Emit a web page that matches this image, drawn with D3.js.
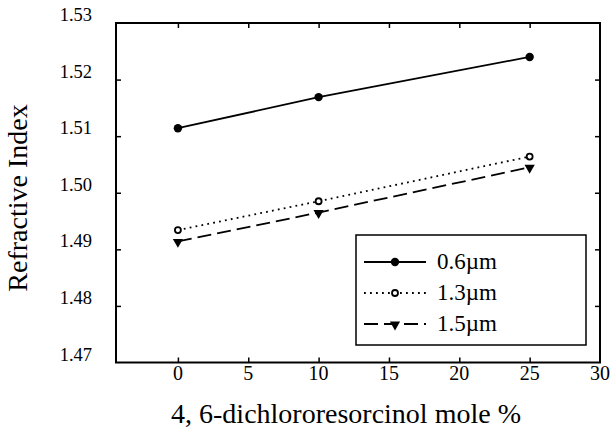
<!DOCTYPE html>
<html>
<head>
<meta charset="utf-8">
<script src="https://cdnjs.cloudflare.com/ajax/libs/d3/7.8.5/d3.min.js"></script>
<style>
body { margin: 0; background: #fff; }
svg text { font-family: "Liberation Serif", "Times New Roman", serif; fill: #000; }
</style>
</head>
<body>
<div id="chart"></div>
<script>
var molePct = [0, 10, 25];
var idx06 = [1.5114, 1.5169, 1.5240];
var idx13 = [1.4934, 1.4985, 1.5064];
var idx15 = [1.4914, 1.4965, 1.5045];
var seriesNames = ['0.6\u00b5m', '1.3\u00b5m', '1.5\u00b5m'];
var xTicks = [0, 5, 10, 15, 20, 25, 30];
var yTicks = [1.47, 1.48, 1.49, 1.50, 1.51, 1.52, 1.53];

var width = 613, height = 431;
var plotL = 116, plotR = 600, plotT = 23, plotB = 362.5;

var svg = d3.select('#chart').append('svg')
	.attr('width', width)
	.attr('height', height);

var x = d3.scaleLinear().domain([-4.4, 30]).range([plotL, plotR]);
var y = d3.scaleLinear().domain([1.47, 1.53]).range([plotB, plotT]);

// frame
svg.append('rect')
	.attr('x', plotL).attr('y', plotT)
	.attr('width', plotR - plotL).attr('height', plotB - plotT)
	.attr('fill', 'none').attr('stroke', '#000').attr('stroke-width', 2);

// inside ticks on all four sides
var tickLen = 5;
function ticksOn(g, axis) {
	g.call(axis);
	g.select('.domain').remove();
	g.selectAll('.tick line').attr('stroke-width', 1.5);
}
svg.append('g').attr('transform', 'translate(0,' + plotB + ')')
	.call(ticksOn, d3.axisTop(x).tickValues(xTicks.slice(0, 6)).tickSize(tickLen).tickFormat(''));
svg.append('g').attr('transform', 'translate(0,' + plotT + ')')
	.call(ticksOn, d3.axisBottom(x).tickValues(xTicks.slice(0, 6)).tickSize(tickLen).tickFormat(''));
svg.append('g').attr('transform', 'translate(' + plotL + ',0)')
	.call(ticksOn, d3.axisRight(y).tickValues(yTicks.slice(1, 6)).tickSize(tickLen).tickFormat(''));
svg.append('g').attr('transform', 'translate(' + plotR + ',0)')
	.call(ticksOn, d3.axisLeft(y).tickValues(yTicks.slice(1, 6)).tickSize(tickLen).tickFormat(''));

// tick labels
svg.append('g').selectAll('text')
	.data(xTicks).enter().append('text')
	.attr('x', function(d){ return x(d); })
	.attr('y', 380)
	.attr('text-anchor', 'middle')
	.style('font-size', '20px')
	.text(function(d){ return d; });

svg.append('g').selectAll('text')
	.data(yTicks).enter().append('text')
	.attr('x', 92)
	.attr('y', function(d){ return y(d) - 2; })
	.attr('text-anchor', 'end')
	.style('font-size', '18.5px')
	.text(function(d){ return d3.format('.2f')(d); });

// axis titles
svg.append('text')
	.attr('x', 346).attr('y', 423)
	.attr('text-anchor', 'middle')
	.style('font-size', '28px')
	.text('4, 6-dichlororesorcinol mole %');

svg.append('text')
	.attr('transform', 'translate(27,198) rotate(-90)')
	.attr('text-anchor', 'middle')
	.style('font-size', '28px')
	.text('Refractive Index');

// series
var series = [
	{ vals: idx06, dash: null, mark: 'dot' },
	{ vals: idx13, dash: '1.8,4.2', mark: 'open' },
	{ vals: idx15, dash: '14,6', mark: 'tri' }
];

var line = d3.line()
	.x(function(d){ return x(d[0]); })
	.y(function(d){ return y(d[1]); });

function drawMarker(g, type, cx, cy) {
	if (type === 'dot') {
		g.append('circle').attr('cx', cx).attr('cy', cy).attr('r', 4.2).attr('fill', '#000');
	} else if (type === 'open') {
		g.append('circle').attr('cx', cx).attr('cy', cy).attr('r', 3).attr('fill', '#fff')
			.attr('stroke', '#000').attr('stroke-width', 1.8);
	} else {
		g.append('path')
			.attr('d', d3.symbol().type(d3.symbolTriangle).size(45))
			.attr('transform', 'translate(' + cx + ',' + (cy + 0.5) + ') rotate(180)')
			.attr('fill', '#000');
	}
}

series.forEach(function(s){
	var pts = molePct.map(function(m, i){ return [m, s.vals[i]]; });
	svg.append('path')
		.datum(pts)
		.attr('d', line)
		.attr('fill', 'none')
		.attr('stroke', '#000')
		.attr('stroke-width', 1.8)
		.attr('stroke-dasharray', s.dash);
	var g = svg.append('g');
	pts.forEach(function(p){ drawMarker(g, s.mark, x(p[0]), y(p[1])); });
});

// legend
var lg = svg.append('g');
lg.append('rect')
	.attr('x', 356).attr('y', 235)
	.attr('width', 230).attr('height', 110)
	.attr('fill', '#fff').attr('stroke', '#000').attr('stroke-width', 1.5);
series.forEach(function(s, i){
	var ly = 262 + i * 31;
	lg.append('line')
		.attr('x1', 364).attr('x2', 426)
		.attr('y1', ly).attr('y2', ly)
		.attr('stroke', '#000').attr('stroke-width', 1.8)
		.attr('stroke-dasharray', s.dash);
	drawMarker(lg, s.mark, 395, ly);
	lg.append('text')
		.attr('x', 437).attr('y', ly + 7)
		.style('font-size', '23px')
		.text(seriesNames[i]);
});
</script>
</body>
</html>
